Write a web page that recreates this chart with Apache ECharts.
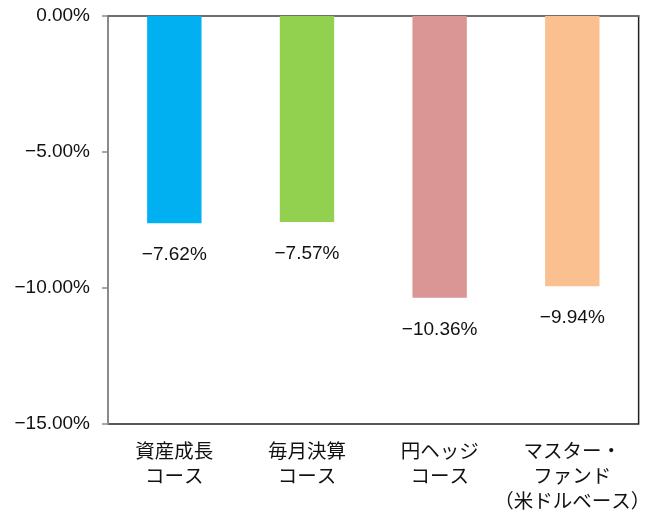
<!DOCTYPE html>
<html><head><meta charset="utf-8">
<script src="https://cdn.jsdelivr.net/npm/echarts@6/dist/echarts.min.js"></script>
<style>html,body{margin:0;padding:0;background:#fff}#c{width:652px;height:513px}</style>
</head><body><div id="c"></div>
<script>
const categories = ['資産成長\nコース', '毎月決算\nコース', '円ヘッジ\nコース', 'マスター・\nファンド\n（米ドルベース）'];
const values = [-7.62, -7.57, -10.36, -9.94];
const colors = ['#00B0F0', '#92D050', '#DA9694', '#FAC090'];
const yTicks = [0, -5, -10, -15];

const numFont = "'Liberation Sans', Arial, sans-serif";
const fmt = v => (v < 0 ? '\u2212' : '') + Math.abs(v).toFixed(2) + '%';

const chart = echarts.init(document.getElementById('c'));
chart.setOption({
  animation: false,
  grid: { left: 108, top: 16, right: 3, bottom: 84, show: true, borderColor: '#222', borderWidth: 1.5 },
  xAxis: [{
    type: 'category', data: categories, position: 'bottom',
    axisLine: { show: false }, axisTick: { show: false },
    axisLabel: { color: '#111', fontSize: 19.5, lineHeight: 25, margin: 14, interval: 0,
      fontFamily: "'Noto Sans CJK JP', sans-serif" }
  }, {
    type: 'category', data: categories, position: 'top',
    axisLine: { show: true, onZero: false, lineStyle: { color: '#6e6e6e', width: 2 } },
    axisTick: { show: false }, axisLabel: { show: false }
  }],
  yAxis: {
    type: 'value', min: yTicks[yTicks.length - 1], max: yTicks[0], interval: 5,
    axisLine: { show: true, lineStyle: { color: '#8a8a8a', width: 2 } },
    axisTick: { show: true, inside: false, length: 6, lineStyle: { color: '#8a8a8a', width: 1.5 } },
    splitLine: { show: false },
    axisLabel: { color: '#111', fontSize: 19, margin: 18, fontFamily: numFont, formatter: fmt }
  },
  series: [{
    type: 'bar', xAxisIndex: 0, barWidth: '41%',
    data: values.map((v, i) => ({ value: v, itemStyle: { color: colors[i] } })),
    label: { show: true, position: 'bottom', distance: 22, color: '#111', fontSize: 19,
      fontFamily: numFont, formatter: p => fmt(p.value) }
  }]
});
</script></body></html>
